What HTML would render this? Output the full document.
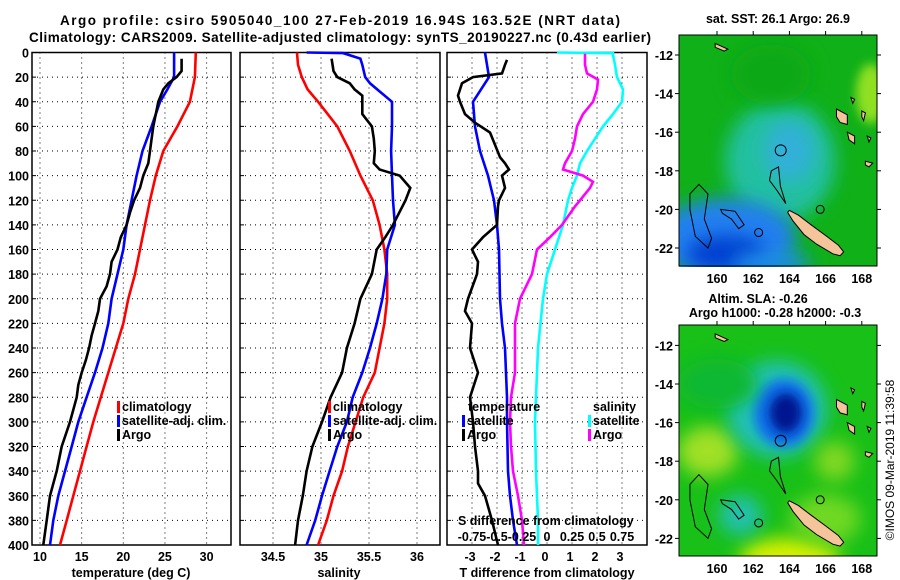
<!DOCTYPE html>
<html><head><meta charset="utf-8"><style>
html,body{margin:0;padding:0;background:#fff;}
svg{display:block;font-family:"Liberation Sans",sans-serif;font-weight:bold;}
</style></head><body>
<svg id="c" width="900" height="580" viewBox="0 0 900 580" xmlns="http://www.w3.org/2000/svg">
<defs>
<filter id="bl" x="-50%" y="-50%" width="200%" height="200%"><feGaussianBlur stdDeviation="9"/></filter>
<filter id="bl2" x="-50%" y="-50%" width="200%" height="200%"><feGaussianBlur stdDeviation="5"/></filter>
<clipPath id="m1c"><rect x="679" y="35" width="198" height="232"/></clipPath>
<clipPath id="m2c"><rect x="679" y="325" width="198" height="231"/></clipPath>
</defs>
<text x="340" y="25" text-anchor="middle" font-size="13.5" textLength="560">Argo profile: csiro 5905040_100 27-Feb-2019 16.94S 163.52E (NRT data)</text>
<text x="340" y="42" text-anchor="middle" font-size="13.5" textLength="622">Climatology: CARS2009. Satellite-adjusted climatology: synTS_20190227.nc (0.43d earlier)</text>
<g id="plots"></g>
<g id="maps"></g>
<text transform="translate(894,460) rotate(-90)" text-anchor="middle" font-size="12" font-weight="normal">©IMOS 09-Mar-2019 11:39:58</text>
</svg>
<script>
// ---- data ----
const tempDepth = [0,20,30,40,60,80,100,120,140,160,180,200,220,240,260,280,300,320,340,360,380,400];
const climT = [28.7,28.6,28.3,28.0,26.5,24.8,23.9,23.2,22.6,22.0,21.4,20.6,20.0,19.1,18.2,17.3,16.4,15.6,14.8,14.0,13.2,12.4];
const satT = [26.1,26.1,25.3,24.4,23.4,22.3,21.6,21.0,20.4,20.0,19.3,18.6,18.2,17.5,16.6,15.6,14.6,13.8,13.0,12.2,11.6,11.2];
const argoTDepth = [5,15,20,25,30,40,50,60,70,80,90,100,110,120,130,140,150,160,170,180,190,200,210,220,230,240,250,260,270,280,300,320,340,360,380,400];
const argoT = [27.0,27.0,26.4,25.4,24.8,24.2,23.9,23.6,23.4,23.2,23.0,22.4,22.0,21.3,20.8,20.4,19.7,19.3,18.6,18.4,18.0,17.2,17.0,16.6,16.2,15.9,15.5,15.0,14.6,14.4,13.6,12.6,12.0,11.2,10.8,10.4];
const climSDepth = [0,10,20,30,40,50,60,80,100,120,140,160,180,200,220,240,260,280,300,320,340,360,380,400];
const climS = [34.75,34.76,34.80,34.86,34.97,35.07,35.17,35.30,35.41,35.54,35.61,35.66,35.69,35.69,35.66,35.61,35.56,35.44,35.36,35.28,35.22,35.13,35.06,34.97];
const satSDepth = [0,0.5,5,10,20,25,40,60,80,100,120,140,160,180,200,220,240,260,280,300,320,340,360,380,400];
const satS = [34.85,35.23,35.41,35.43,35.46,35.51,35.74,35.74,35.73,35.74,35.75,35.77,35.69,35.68,35.64,35.58,35.51,35.43,35.33,35.27,35.17,35.09,35.01,34.94,34.85];
const argoSDepth = [5,15,20,25,30,35,50,60,70,80,90,95,100,110,120,140,150,160,180,200,220,240,260,280,300,320,340,360,380,400];
const argoS = [35.11,35.13,35.17,35.30,35.35,35.43,35.43,35.53,35.55,35.56,35.55,35.61,35.82,35.93,35.88,35.75,35.67,35.58,35.53,35.41,35.35,35.27,35.22,35.10,35.01,34.91,34.85,34.81,34.76,34.73];
const dTsatDepth = [0,20,40,60,80,100,120,140,160,200,220,240,280,300,340,360,380,400];
const dTsat = [-2.48,-2.32,-2.96,-2.88,-2.68,-2.36,-2.12,-2.0,-1.92,-1.88,-1.8,-1.68,-1.6,-1.6,-1.56,-1.48,-1.36,-1.2];
const dTargoDepth = [6,10,17,20,25,35,40,50,57,65,75,85,90,95,100,110,120,125,140,150,160,170,180,200,210,220,240,260,280,300,320,340,350,360,380,400];
const dTargo = [-1.6,-1.68,-1.8,-2.96,-3.4,-3.56,-3.48,-3.28,-2.88,-2.28,-2.08,-1.88,-1.68,-1.52,-1.8,-1.68,-1.92,-1.96,-2.0,-2.56,-3.0,-2.76,-2.8,-3.16,-3.28,-3.0,-3.08,-2.76,-3.08,-2.96,-2.88,-2.76,-2.76,-2.48,-2.2,-1.96];
const dSsatDepth = [0,0.6,2,10,20,30,40,50,60,70,80,90,100,110,120,140,160,180,200,240,280,300,340,360,380,400];
const dSsat = [0.1,0.66,0.66,0.68,0.7,0.76,0.75,0.66,0.56,0.48,0.4,0.33,0.3,0.25,0.21,0.16,0.08,0.0,-0.04,-0.09,-0.11,-0.12,-0.11,-0.10,-0.09,-0.09];
const dSargoDepth = [1,10,17,22,30,40,50,60,70,80,90,95,100,105,110,120,125,140,150,160,180,200,220,260,280,300,320,340,360,380,400];
const dSargo = [0.38,0.38,0.40,0.51,0.50,0.46,0.36,0.30,0.28,0.25,0.18,0.16,0.36,0.46,0.43,0.33,0.28,0.15,0.03,-0.10,-0.15,-0.27,-0.32,-0.32,-0.36,-0.37,-0.36,-0.34,-0.29,-0.25,-0.23];
const depthTicks = [0,20,40,60,80,100,120,140,160,180,200,220,240,260,280,300,320,340,360,380,400];
const tempTicks = [10,15,20,25,30];
const salTicks = [34.5,35,35.5,36];
const tdTicks = [-3,-2,-1,0,1,2,3];
const sdTicks = [-0.75,-0.5,-0.25,0,0.25,0.5,0.75];
const sdTickLabels = ['-0.75','-0.5','-0.25','0','0.25','0.5','0.75'];
const latTicks = [-12,-14,-16,-18,-20,-22];
const lonTicks = [160,162,164,166,168];

const NS='http://www.w3.org/2000/svg';
function mk(tag, attrs, parent){const e=document.createElementNS(NS,tag);for(const k in attrs)e.setAttribute(k,attrs[k]);parent.appendChild(e);return e;}
const Y0=52.5, Y1=545;
const yD = d => Y0 + (Y1-Y0)*d/400;
const xT = t => 40 + (t-10)*8.33;
const xS = s => 273 + (s-34.5)*96;
const xDT = t => 547 + t*25;
const xDS = s => 547 + s*100;
const plots=document.getElementById('plots');

function panel(name,x0,x1,xticks,xf){
  const g=mk('g',{},plots);
  
  
  depthTicks.forEach(d=>{ if(d>0&&d<400){const l=mk('line',{x1:x0,x2:x1,y1:yD(d),y2:yD(d),stroke:'#000','stroke-width':1,'stroke-dasharray':'1,4'},g);
    
    }
    const tk=mk('line',{x1:x0,x2:x0+4,y1:yD(d),y2:yD(d),stroke:'#000'},g);
    
    
  });
  xticks.forEach(v=>{const x=xf(v);const l=mk('line',{x1:x,x2:x,y1:Y0,y2:Y1,stroke:'#000','stroke-width':1,'stroke-dasharray':'1,4'},g);
    
    });
  const r=mk('rect',{x:x0,y:Y0,width:x1-x0,height:Y1-Y0,fill:'none',stroke:'#000','stroke-width':1.5},g);
  
  
  return g;
}
function line(g,name,depths,vals,xf,color,w){
  const pts=depths.map((d,i)=>xf(vals[i]).toFixed(1)+','+yD(d).toFixed(1)).join(' ');
  const p=mk('polyline',{points:pts,fill:'none',stroke:color,'stroke-width':w||2.6,'stroke-linejoin':'miter'},g);
  
  
}
function txt(g,name,x,y,s,fs,anchor,color){const t=mk('text',{x:x,y:y,'font-size':fs||12,'text-anchor':anchor||'start',fill:color||'#000'},g);t.textContent=s;
  
  return t;}
function legend(g,x,y,color,label){
  const b=mk('rect',{x:x,y:y-10,width:3,height:12,fill:color},g);
  
  
  txt(g,'legend-label',x+5,y,label,12.5);
}

// Panel 1: temperature
const p1=panel('temperature-panel',32,231,tempTicks,xT);
line(p1,'climatology-temperature',tempDepth,climT,xT,'#ff0000');
line(p1,'satellite-temperature',tempDepth,satT,xT,'#0000ff');
line(p1,'argo-temperature',argoTDepth,argoT,xT,'#000000');
depthTicks.forEach(d=>txt(p1,'depth-tick-label',29,yD(d)+5,String(d),12.5,'end'));
tempTicks.forEach(v=>txt(p1,'temp-tick-label',xT(v),561,String(v),12.5,'middle'));
txt(p1,'x-axis-title-temperature',131,577,'temperature (deg C)',12.5,'middle');
legend(p1,117,411,'#ff0000','climatology');
legend(p1,117,425,'#0000ff','satellite-adj. clim.');
legend(p1,117,439,'#000000','Argo');

// Panel 2: salinity
const p2=panel('salinity-panel',240,440,salTicks,xS);
line(p2,'climatology-salinity',climSDepth,climS,xS,'#ff0000');
line(p2,'satellite-salinity',satSDepth,satS,xS,'#0000ff');
line(p2,'argo-salinity',argoSDepth,argoS,xS,'#000000');
salTicks.forEach(v=>txt(p2,'sal-tick-label',xS(v),561,String(v),12.5,'middle'));
txt(p2,'x-axis-title-salinity',339,577,'salinity',12.5,'middle');
legend(p2,328,411,'#ff0000','climatology');
legend(p2,328,425,'#0000ff','satellite-adj. clim.');
legend(p2,328,439,'#000000','Argo');

// Panel 3: differences
const p3=panel('difference-panel',447,647,tdTicks,xDT);
line(p3,'temp-diff-satellite',dTsatDepth,dTsat,xDT,'#0000ff');
line(p3,'temp-diff-argo',dTargoDepth,dTargo,xDT,'#000000');
line(p3,'sal-diff-satellite',dSsatDepth,dSsat,xDS,'#00ffff');
line(p3,'sal-diff-argo',dSargoDepth,dSargo,xDS,'#ff00ff');
tdTicks.forEach(v=>txt(p3,'tdiff-tick-label',xDT(v)-2,561,String(v),12.5,'middle'));
sdTicks.forEach((v,i)=>txt(p3,'sdiff-tick-label',xDS(v),541,sdTickLabels[i],12.5,'middle'));
txt(p3,'s-diff-title',458,525,'S difference from climatology',12.5,'start');
txt(p3,'x-axis-title-tdiff',547,577,'T difference from climatology',12.5,'middle');
txt(p3,'legend-temperature-heading',468,411,'temperature',12.5);
txt(p3,'legend-salinity-heading',593,411,'salinity',12.5);
legend(p3,462,425,'#0000ff','satellite');
legend(p3,462,439,'#000000','Argo');
legend(p3,588,425,'#00ffff','satellite');
legend(p3,588,439,'#ff00ff','Argo');

// ---- maps ----
const maps=document.getElementById('maps');
const mx = lon => 717 + (lon-160)*18.1;
function mapPanel(name,top,yf,clip,blobs){
  const g=mk('g',{},maps);
  
  
  const cg=mk('g',{'clip-path':'url(#'+clip+')'},g);
  mk('rect',{x:679,y:top,width:198,height:231,fill:blobs.base},cg);
  blobs.list.forEach(b=>{const e=mk('ellipse',{cx:mx(b[0]),cy:yf(b[1]),rx:b[2],ry:b[3],fill:b[4],filter:'url(#'+(b[5]||'bl')+')'},cg);
    
    });
  const islands=[
    [[164.0,-20.05],[164.5,-20.3],[165.2,-20.8],[166.0,-21.35],[166.7,-21.85],[167.0,-22.2],[166.8,-22.4],[166.4,-22.3],[165.5,-21.8],[164.8,-21.3],[164.2,-20.6],[163.9,-20.15]],
    [[166.6,-14.8],[167.2,-15.1],[167.2,-15.6],[166.8,-15.5],[166.6,-15.2]],
    [[167.2,-16.0],[167.6,-16.2],[167.6,-16.6],[167.3,-16.4]],
    [[168.2,-17.5],[168.6,-17.6],[168.4,-17.8],[168.2,-17.7]],
    [[168.3,-16.2],[168.5,-16.3],[168.4,-16.5]],
    [[159.9,-11.4],[160.6,-11.7],[160.4,-11.8],[159.9,-11.6]],
    [[167.4,-14.2],[167.6,-14.3],[167.5,-14.5]],
    [[168.0,-14.9],[168.2,-15.0],[168.1,-15.4],[168.0,-15.2]]
  ];
  islands.forEach(pl=>{const p=mk('polygon',{points:pl.map(q=>mx(q[0]).toFixed(1)+','+yf(q[1]).toFixed(1)).join(' '),fill:'#f5c49b',stroke:'#000','stroke-width':1},cg);
    
    });
  const reefs=[
    [[158.5,-19.2],[159.0,-18.7],[159.5,-19.2],[159.3,-20.5],[159.7,-21.5],[159.5,-22.0],[158.8,-21.4],[158.5,-20.0]],
    [[160.2,-20.0],[161.0,-20.1],[161.5,-20.8],[161.2,-21.0],[160.8,-20.5],[160.3,-20.2]],
    [[163.0,-18.0],[163.4,-17.8],[163.5,-18.8],[163.8,-19.7],[163.3,-19.0],[162.9,-18.5]]
  ];
  reefs.forEach(pl=>{const p=mk('polygon',{points:pl.map(q=>mx(q[0]).toFixed(1)+','+yf(q[1]).toFixed(1)).join(' '),fill:'none',stroke:'#000','stroke-width':1},cg);
    
    });
  [[162.3,-21.2],[165.7,-20.0]].forEach(c=>{const e=mk('circle',{cx:mx(c[0]),cy:yf(c[1]),r:4,fill:'none',stroke:'#000'},cg);
    
    });
  const loc=mk('circle',{cx:mx(163.52),cy:yf(-16.94),r:5.5,fill:'none',stroke:'#000','stroke-width':1},cg);
  
  
  const fr=mk('rect',{x:679,y:top,width:198,height:231,fill:'none',stroke:'#000','stroke-width':1},g);
  
  
  latTicks.forEach(v=>{const y=yf(v);
    mk('line',{x1:675,x2:679,y1:y,y2:y,stroke:'#000'},g);
    mk('line',{x1:877,x2:881,y1:y,y2:y,stroke:'#000'},g);
    txt(g,'lat-tick-label',673,y+5,String(v),12.5,'end');});
  lonTicks.forEach(v=>{const x=mx(v);
    mk('line',{x1:x,x2:x,y1:top,y2:top-4,stroke:'#000'},g);
    txt(g,'lon-tick-label',x,top+248,String(v),12.5,'middle');});
  return g;
}
const y1f = lat => 55 + (-12-lat)*19.3;
const y2f = lat => 384 + (-14-lat)*19.3;
const m1=mapPanel('sst-map',35,y1f,'m1c',{base:'#10b018',list:[
  [163.5,-17.5,55,60,'#20c0a0'],
  [164,-17,25,30,'#30b0d8'],
  [160.5,-21.5,70,40,'#2080f0'],
  [160.5,-22.3,40,18,'#0040d0'],
  [163,-22.8,40,12,'#1a8ce8'],
  [168.5,-14,15,30,'#90e020','bl2'],
  [163,-13,40,30,'#08a818']]});
txt(m1,'sst-map-title',778,23,'sat. SST: 26.1 Argo: 26.9',12.5,'middle');
const m2=mapPanel('sla-map',325,y2f,'m2c',{base:'#18c018',list:[
  [159.5,-17.5,30,25,'#a0e028'],
  [164,-23,50,20,'#d8f000'],
  [166,-21,35,25,'#70d820'],
  [161.3,-20.8,22,20,'#20c0b0'],
  [163.3,-15.3,50,48,'#20c0b8'],
  [163.7,-15.5,30,34,'#1070e8','bl2'],
  [163.8,-15.5,16,20,'#001890','bl2'],
  [166.5,-18,20,20,'#80d820'],
  [160,-14,40,25,'#10b830']]});
txt(m2,'sla-title',758,303,'Altim. SLA: -0.26',12.5,'middle');
txt(m2,'argo-height-title',775,317,'Argo h1000: -0.28 h2000: -0.3',12.5,'middle');
</script>
</body></html>
